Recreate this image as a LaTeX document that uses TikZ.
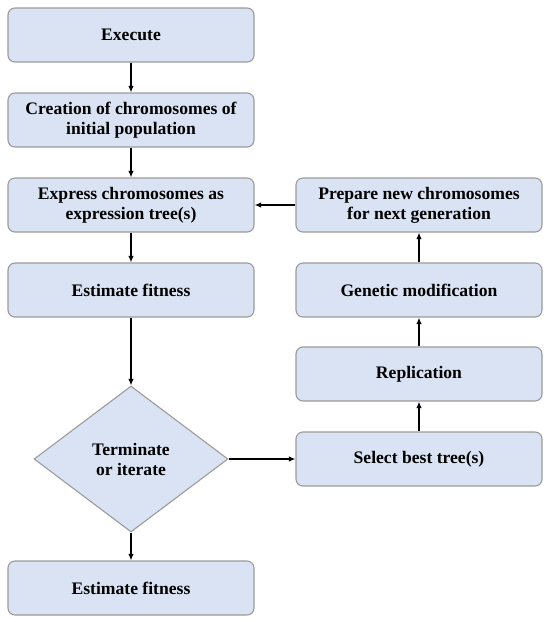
\documentclass[tikz,border=0pt]{standalone}
\usepackage{fontspec}
\setmainfont{Liberation Serif}
\usepackage{xcolor}
\usetikzlibrary{shapes.geometric,arrows.meta,positioning}
\definecolor{boxfill}{HTML}{DAE3F3}
\definecolor{boxline}{HTML}{9B9B9B}

\begin{document}
\begin{tikzpicture}[x=1pt, y=-1pt,
    block/.style={draw=boxline, fill=boxfill, line width=1.1pt, rounded corners=7pt,
        minimum width=246pt, minimum height=54pt, inner sep=0pt, align=center,
        font=\fontsize{17.6}{20}\selectfont\bfseries},
    decision/.style={diamond, draw=boxline, fill=boxfill, line width=1.1pt,
        minimum width=194pt, minimum height=146pt, inner sep=0pt, align=center,
        font=\fontsize{17.6}{20}\selectfont\bfseries},
    flow/.style={-{Latex[length=6.5pt,width=5.5pt]}, line width=1.3pt}]
    \useasboundingbox (0,0) rectangle (550,622);
    % left column
    \node[block] (exec) at (131,35) {Execute};
    \node[block] (create) at (131,120) {Creation of chromosomes of\\initial population};
    \node[block] (express) at (131,205) {Express chromosomes as\\expression tree(s)};
    \node[block] (fit) at (131,290) {Estimate fitness};
    \node[decision] (term) at (131,459) {Terminate\\or iterate};
    \node[block] (fitend) at (131,588) {Estimate fitness};
    % right column
    \node[block] (prep) at (419,205) {Prepare new chromosomes\\for next generation};
    \node[block] (mod) at (419,290) {Genetic modification};
    \node[block] (repl) at (419,374) {Replication};
    \node[block] (sel) at (419,459) {Select best tree(s)};
    % arrows
    \draw[flow] (exec) -- (create);
    \draw[flow] (create) -- (express);
    \draw[flow] (express) -- (fit);
    \draw[flow] (fit) -- (term);
    \draw[flow] (term) -- (fitend);
    \draw[flow] (term) -- (sel);
    \draw[flow] (sel) -- (repl);
    \draw[flow] (repl) -- (mod);
    \draw[flow] (mod) -- (prep);
    \draw[flow] (prep) -- (express);
\end{tikzpicture}
\end{document}
